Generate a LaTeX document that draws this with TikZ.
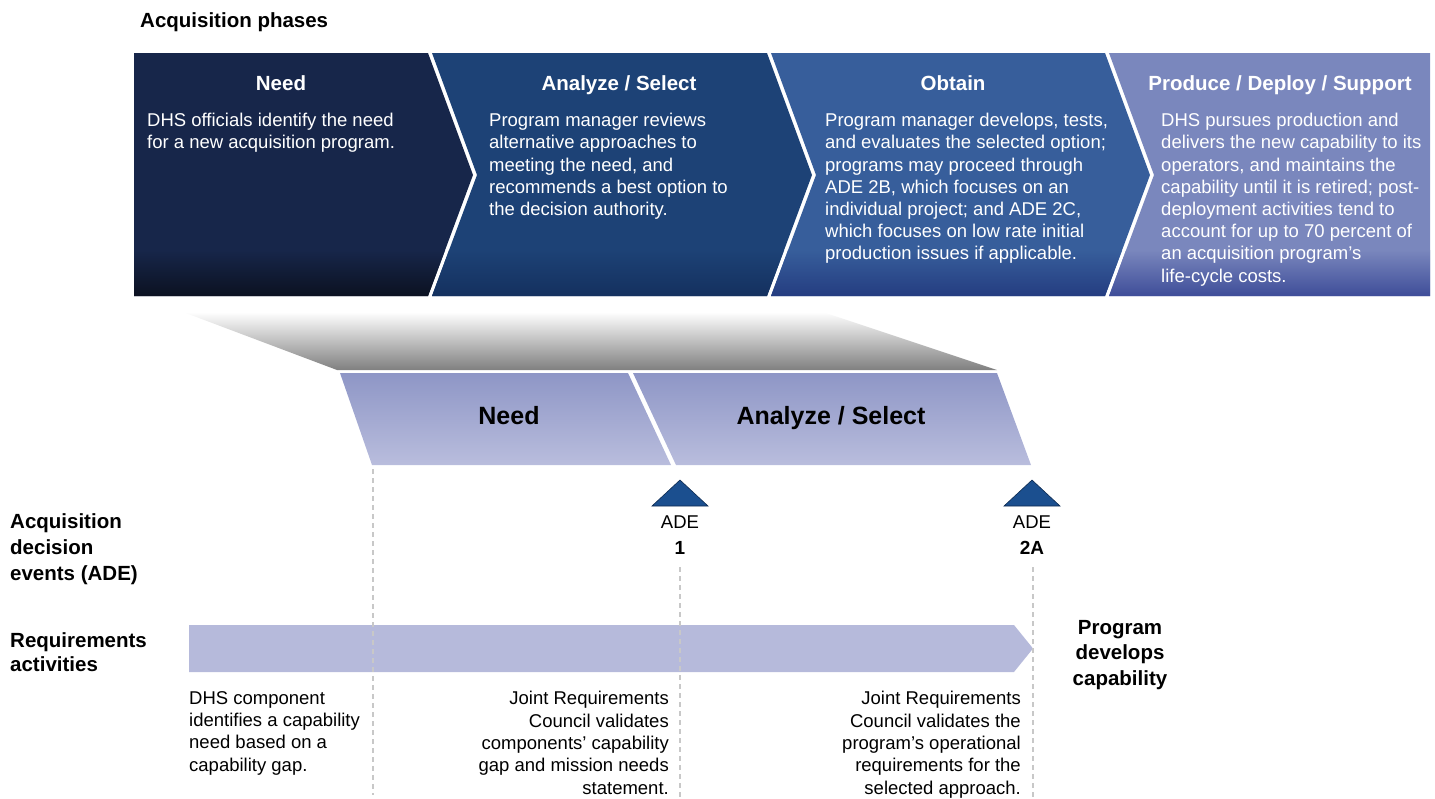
\documentclass[tikz,border=0pt]{standalone}
\usepackage{fontspec}
\setmainfont{Liberation Sans}
\definecolor{cA}{HTML}{17264A}
\definecolor{cAd}{HTML}{0B1120}
\definecolor{cB}{HTML}{1D4276}
\definecolor{cBd}{HTML}{14305E}
\definecolor{cC}{HTML}{375E9B}
\definecolor{cCd}{HTML}{243C80}
\definecolor{cD}{HTML}{7A87BD}
\definecolor{cDd}{HTML}{3D4C98}
\definecolor{bandtop}{HTML}{8E96C6}
\definecolor{bandbot}{HTML}{B9BDDD}
\definecolor{arrowfill}{HTML}{B6BADB}
\definecolor{tri}{HTML}{1B4F8F}
\definecolor{trid}{HTML}{0D2A50}
\definecolor{dashc}{HTML}{C8C8C8}
\tikzset{
  x=1pt,y=-1pt,
  title/.style={anchor=base,text=white,font=\fontsize{20.5}{24}\selectfont\bfseries,inner sep=0},
  body/.style={anchor=north west,align=left,text=white,font=\fontsize{18.5}{22.2}\selectfont,inner sep=0},
  note/.style={anchor=north west,align=left,text=black,font=\fontsize{18.5}{22.4}\selectfont,inner sep=0},
  noter/.style={anchor=north east,align=right,text=black,font=\fontsize{18.5}{22.4}\selectfont,inner sep=0},
  label/.style={anchor=north west,align=left,font=\fontsize{20.5}{25}\selectfont\bfseries,inner sep=0},
  bandtext/.style={anchor=base,font=\fontsize{25}{30}\selectfont\bfseries,inner sep=0},
  guide/.style={dashc,line width=2pt,dash pattern=on 5pt off 4pt},
  adetri/.style={fill=tri,draw=trid,line width=0.6pt},
}
\begin{document}
\begin{tikzpicture}
\useasboundingbox (0,0) rectangle (1435,798);
% ---------- top chevrons ----------
\def\chA{(134,53) -- (428,53) -- (473,175) -- (428,296) -- (134,296) -- cycle}
\def\chB{(432,53) -- (767,53) -- (812,175) -- (767,296) -- (432,296) -- (477,175) -- cycle}
\def\chC{(771,53) -- (1105,53) -- (1150,175) -- (1105,296) -- (771,296) -- (816,175) -- cycle}
\def\chD{(1109,53) -- (1430,53) -- (1430,296) -- (1109,296) -- (1154,175) -- cycle}
\fill[cA] \chA;
\begin{scope}\clip \chA; \shade[top color=cA,bottom color=cAd] (130,250) rectangle (480,297);\end{scope}
\fill[cB] \chB;
\begin{scope}\clip \chB; \shade[top color=cB,bottom color=cBd] (430,250) rectangle (815,297);\end{scope}
\fill[cC] \chC;
\begin{scope}\clip \chC; \shade[top color=cC,bottom color=cCd] (770,250) rectangle (1152,297);\end{scope}
\fill[cD] \chD;
\begin{scope}\clip \chD; \shade[top color=cD,bottom color=cDd] (1108,250) rectangle (1431,297);\end{scope}

\node[anchor=base west,font=\fontsize{20.5}{24}\selectfont\bfseries,inner sep=0] (phases) at (140,27) {Acquisition phases};

\node[title] (tA) at (281,90.5) {Need};
\node[title] (tB) at (619,90.5) {Analyze / Select};
\node[title] (tC) at (953,90.5) {Obtain};
\node[title] (tD) at (1280,90.5) {Produce / Deploy / Support};

\node[body] (bA) at (147,113) {DHS officials identify the need\\for a new acquisition program.};
\node[body] (bB) at (489,113) {Program manager reviews\\alternative approaches to\\meeting the need, and\\recommends a best option to\\the decision authority.};
\node[body] (bC) at (825,113) {Program manager develops, tests,\\and evaluates the selected option;\\programs may proceed through\\ADE 2B, which focuses on an\\individual project; and ADE 2C,\\which focuses on low rate initial\\production issues if applicable.};
\node[body] (bD) at (1161,113) {DHS pursues production and\\delivers the new capability to its\\operators, and maintains the\\capability until it is retired; post-\\deployment activities tend to\\account for up to 70 percent of\\an acquisition program's\\life-cycle costs.};

% ---------- funnel ----------
\shade[top color=white,bottom color=black!50] (183,312) -- (823,312) -- (997,370) -- (337,370) -- cycle;

% ---------- lower band ----------
\shade[top color=bandtop,bottom color=bandbot] (340,373) -- (628,373) -- (671,465) -- (372,465) -- cycle;
\shade[top color=bandtop,bottom color=bandbot] (633,373) -- (997,373) -- (1031,465) -- (676,465) -- cycle;
\node[bandtext] (nNeed) at (509,424) {Need};
\node[bandtext] (nAna) at (831,424) {Analyze / Select};

% ---------- requirements arrow ----------
\fill[arrowfill] (189,625) -- (1014,625) -- (1033,648.5) -- (1014,672) -- (189,672) -- cycle;

% ---------- guides ----------
\coordinate (g1t) at (373,469); \coordinate (g1b) at (373,795);
\coordinate (g2t) at (680,567); \coordinate (g2b) at (680,798);
\coordinate (g3t) at (1033,567); \coordinate (g3b) at (1033,798);
\draw[guide] (g1t) -- (g1b);
\draw[guide] (g2t) -- (g2b);
\draw[guide] (g3t) -- (g3b);

% ---------- ADE markers ----------
\draw[adetri] (680,480) -- (708,506) -- (652,506) -- cycle;
\draw[adetri] (1032,480) -- (1060,506) -- (1004,506) -- cycle;
\node[anchor=base,font=\fontsize{18.5}{22}\selectfont,inner sep=0] (ade1) at (680,528.5) {ADE};
\node[anchor=base,font=\fontsize{19}{22}\selectfont\bfseries,inner sep=0] (ade1n) at (680,554) {1};
\node[anchor=base,font=\fontsize{18.5}{22}\selectfont,inner sep=0] (ade2) at (1032,528.5) {ADE};
\node[anchor=base,font=\fontsize{19}{22}\selectfont\bfseries,inner sep=0] (ade2n) at (1032,554) {2A};

% ---------- left labels ----------
\node[label,font=\fontsize{20.5}{26}\selectfont\bfseries] (lADE) at (10,513) {Acquisition\\decision\\events (ADE)};
\node[label,font=\fontsize{20.5}{24.5}\selectfont\bfseries] (lReq) at (10,632) {Requirements\\activities};
\node[anchor=north,align=center,font=\fontsize{20.5}{25.5}\selectfont\bfseries,inner sep=0] (prog) at (1120,620) {Program\\develops\\capability};

% ---------- bottom notes ----------
\node[note] (n1) at (189,691) {DHS component\\identifies a capability\\need based on a\\capability gap.};
\node[noter] (n2) at (669,691) {Joint Requirements\\Council validates\\components' capability\\gap and mission needs\\statement.};
\node[noter] (n3) at (1021,691) {Joint Requirements\\Council validates the\\program's operational\\requirements for the\\selected approach.};
\end{tikzpicture}
\end{document}
